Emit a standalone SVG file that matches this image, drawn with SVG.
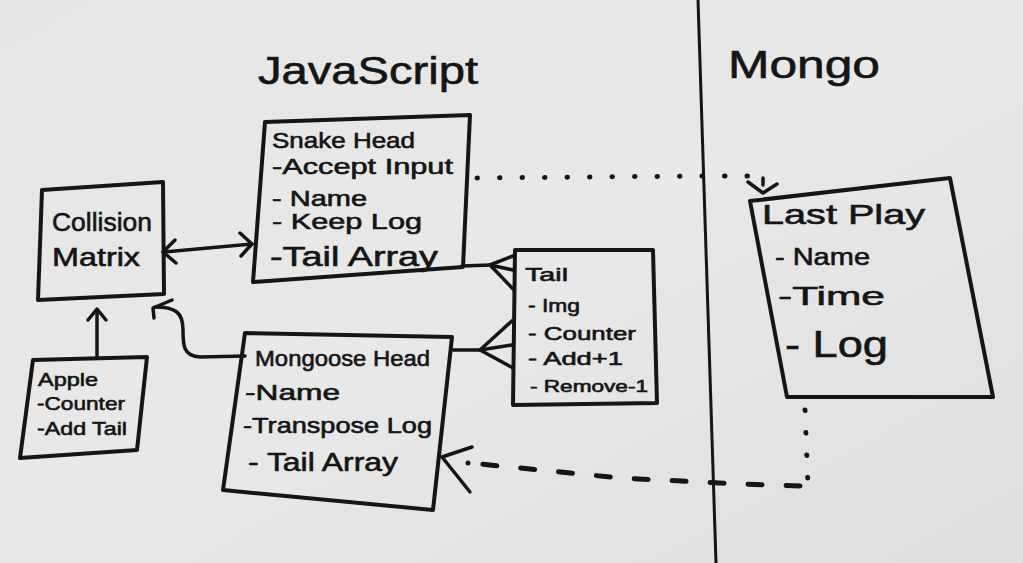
<svg xmlns="http://www.w3.org/2000/svg" width="1023" height="563" viewBox="0 0 1023 563">
<style>
.box{fill:none;stroke:#151515;stroke-width:4;stroke-linejoin:round;stroke-linecap:round}
.ln{fill:none;stroke:#151515;stroke-width:3.5;stroke-linecap:round;stroke-linejoin:round}
.dot{fill:none;stroke:#151515;stroke-width:5;stroke-linecap:round;stroke-dasharray:0.5 22}
.dash{fill:none;stroke:#151515;stroke-width:5;stroke-linecap:round;stroke-dasharray:14 24}
text{font-family:"Liberation Sans","DejaVu Sans",sans-serif;fill:#151515;stroke:#151515;stroke-width:0.6}
.t{font-size:22px}
.s{font-size:19px}
.h{font-size:38px}
</style>
<defs>
<linearGradient id="bg" x1="0" y1="0" x2="1" y2="1">
<stop offset="0" stop-color="#e6e6e6"/>
<stop offset="0.5" stop-color="#e8e8e8"/>
<stop offset="1" stop-color="#dedede"/>
</linearGradient>
</defs>
<rect width="1023" height="563" fill="url(#bg)"/>
<line x1="698" y1="0" x2="716" y2="563" stroke="#151515" stroke-width="3"/>
<text class="h" x="258" y="84" textLength="220" lengthAdjust="spacingAndGlyphs">JavaScript</text>
<text class="h" x="728" y="78" textLength="152" lengthAdjust="spacingAndGlyphs">Mongo</text>

<g id="connectors">
<line class="ln" x1="164" y1="252" x2="252" y2="244"/>
<polyline class="ln" points="175,240 163,252 176,263"/>
<polyline class="ln" points="240,233 252,244 241,256"/>
<line class="ln" x1="97" y1="356" x2="97" y2="310"/>
<polyline class="ln" points="88,320 97,309 106,320"/>
<path class="ln" d="M245,356 L200,357 C183,356 183,345 183,330 C183,312 175,307 155,307"/>
<polyline class="ln" points="172,300 153,308 154,318"/>
<line class="ln" x1="462" y1="266" x2="490" y2="265"/>
<line class="ln" x1="490" y1="265" x2="513" y2="256"/>
<line class="ln" x1="490" y1="265" x2="513" y2="270"/>
<line class="ln" x1="490" y1="265" x2="514" y2="290"/>
<line class="ln" x1="453" y1="350" x2="480" y2="350"/>
<line class="ln" x1="480" y1="350" x2="513" y2="320"/>
<line class="ln" x1="480" y1="350" x2="512" y2="345"/>
<line class="ln" x1="480" y1="350" x2="513" y2="368"/>
<path class="dot" d="M477,178 L700,176 L760,176"/>
<line class="ln" x1="763" y1="178" x2="763" y2="185"/>
<polyline class="ln" points="748,182 763,193 777,184"/>
<path class="dot" d="M805,410 L808,486"/>
<path class="dash" d="M800,486 L740,484 L620,478 L470,463"/>
<circle cx="468" cy="463" r="2.5" fill="#151515"/>
<polyline class="ln" points="472,447 442,457 470,492"/>
</g>

<g id="collision-matrix">
<path class="box" d="M42,190 L163,182 L164,294 L38,300 Z"/>
<text x="52" y="231" font-size="26" textLength="100" lengthAdjust="spacingAndGlyphs">Collision</text>
<text x="52" y="266" font-size="26" textLength="88" lengthAdjust="spacingAndGlyphs">Matrix</text>
</g>

<g id="apple">
<path class="box" d="M33,360 L147,357 L137,450 L20,458 Z"/>
<text class="s" x="38" y="386" textLength="60" lengthAdjust="spacingAndGlyphs">Apple</text>
<text class="s" x="37" y="410" textLength="88" lengthAdjust="spacingAndGlyphs">-Counter</text>
<text class="s" x="37" y="435" textLength="90" lengthAdjust="spacingAndGlyphs">-Add Tail</text>
</g>

<g id="snake-head">
<path class="box" d="M265,122 L470,115 L463,267 L253,282 Z"/>
<text class="t" x="272" y="148" textLength="143" lengthAdjust="spacingAndGlyphs">Snake Head</text>
<text class="t" x="272" y="174" textLength="181" lengthAdjust="spacingAndGlyphs">-Accept Input</text>
<text class="t" x="272" y="206" textLength="95" lengthAdjust="spacingAndGlyphs">- Name</text>
<text class="t" x="272" y="229" textLength="150" lengthAdjust="spacingAndGlyphs">- Keep Log</text>
<text x="270" y="266" font-size="27" textLength="168" lengthAdjust="spacingAndGlyphs">-Tail Array</text>
</g>

<g id="tail">
<path class="box" d="M515,250 L653,250 L657,403 L513,405 Z"/>
<text class="s" x="525" y="281" textLength="43" lengthAdjust="spacingAndGlyphs">Tail</text>
<text class="s" x="528" y="312" textLength="52" lengthAdjust="spacingAndGlyphs">- Img</text>
<text class="s" x="528" y="340" textLength="108" lengthAdjust="spacingAndGlyphs">- Counter</text>
<text class="s" x="528" y="365" textLength="95" lengthAdjust="spacingAndGlyphs">- Add+1</text>
<text x="530" y="392" font-size="16" textLength="118" lengthAdjust="spacingAndGlyphs">- Remove-1</text>
</g>

<g id="mongoose-head">
<path class="box" d="M245,333 L452,337 L433,510 L223,490 Z"/>
<text class="t" x="255" y="366" textLength="175" lengthAdjust="spacingAndGlyphs">Mongoose Head</text>
<text class="t" x="245" y="400" textLength="95" lengthAdjust="spacingAndGlyphs">-Name</text>
<text class="t" x="243" y="433" textLength="189" lengthAdjust="spacingAndGlyphs">-Transpose Log</text>
<text x="248" y="471" font-size="25" textLength="150" lengthAdjust="spacingAndGlyphs">- Tail Array</text>
</g>

<g id="last-play">
<path class="box" d="M750,201 L950,178 L993,397 L787,397 Z"/>
<text x="762" y="224" font-size="28" textLength="163" lengthAdjust="spacingAndGlyphs">Last Play</text>
<text x="775" y="265" font-size="24" textLength="95" lengthAdjust="spacingAndGlyphs">- Name</text>
<text x="778" y="305" font-size="26" textLength="107" lengthAdjust="spacingAndGlyphs">-Time</text>
<text x="785" y="357" font-size="36" textLength="103" lengthAdjust="spacingAndGlyphs">- Log</text>
</g>
</svg>
